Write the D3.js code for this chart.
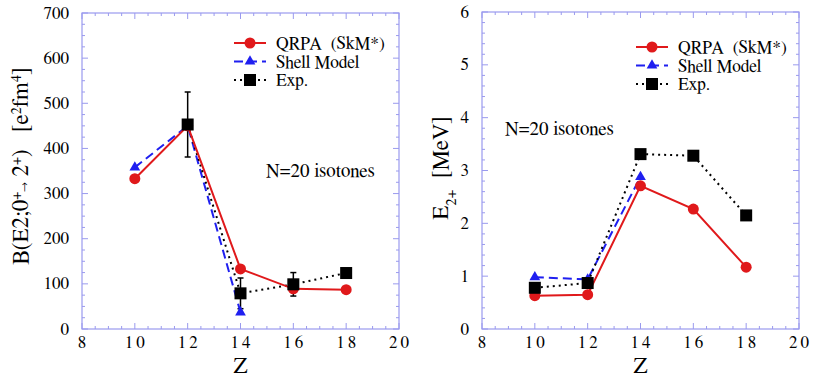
<!DOCTYPE html>
<html>
<head>
<meta charset="utf-8">
<script src="https://cdn.jsdelivr.net/npm/d3@7"></script>
<style>
  body { margin: 0; background: #fff; }
  text { white-space: pre; }
</style>
</head>
<body>
<div id="chart"></div>
<script>
// Z values
const zAll = [10, 12, 14, 16, 18];
const zShell = [10, 12, 14];

// left panel: B(E2) [e^2 fm^4]
const be2Qrpa = [333, 450, 133, 89, 87];
const be2Shell = [358, 450, 37];
const be2Exp = [453, 79, 99, 124];
const be2ExpZ = [12, 14, 16, 18];
const be2ExpErr = [72, 34, 26, 8];

// right panel: E(2+) [MeV]
const e2Qrpa = [0.63, 0.65, 2.71, 2.27, 1.17];
const e2Shell = [0.98, 0.94, 2.88];
const e2Exp = [0.78, 0.87, 3.31, 3.28, 2.15];

const xTicks = [8, 10, 12, 14, 16, 18, 20];
const be2Ticks = [0, 100, 200, 300, 400, 500, 600, 700];
const e2Ticks = [0, 1, 2, 3, 4, 5, 6];

const legendNames = ['QRPA  (SkM*)', 'Shell Model', 'Exp.'];

const frameColor = '#9a9aee';
const red = '#e0191b', blue = '#1f1ff0';
const serif = 'FreeSerif, "Liberation Serif", serif';

const svg = d3.select('#chart').append('svg')
  .attr('width', 830).attr('height', 378)
  .attr('font-family', serif);

function drawPanel(p) {
  const g = svg.append('g').attr('transform', `translate(${p.left},${p.top})`);
  const w = p.width, h = p.height;
  const x = d3.scaleLinear().domain([8, 20]).range([0, w]);
  const y = d3.scaleLinear().domain(p.yDomain).range([h, 0]);

  // frame
  g.append('rect').attr('width', w).attr('height', h)
    .attr('fill', 'none').attr('stroke', frameColor).attr('stroke-width', 1.2);

  // ticks on all four sides, pointing inward
  const xMinor = d3.range(8, 20.01, 0.5);
  const yMinor = d3.range(p.yDomain[0], p.yDomain[1] + 1e-6, p.yMinorStep);
  const isMajorX = v => Math.abs(v - Math.round(v / 2) * 2) < 1e-6;
  const isMajorY = v => Math.abs(v / p.yMajorStep - Math.round(v / p.yMajorStep)) < 1e-6;
  const tg = g.append('g').attr('stroke', frameColor).attr('stroke-width', 1);
  xMinor.forEach(v => {
    const len = isMajorX(v) ? 6 : 3;
    tg.append('line').attr('x1', x(v)).attr('x2', x(v)).attr('y1', h).attr('y2', h - len);
    tg.append('line').attr('x1', x(v)).attr('x2', x(v)).attr('y1', 0).attr('y2', len);
  });
  yMinor.forEach(v => {
    const len = isMajorY(v) ? 6 : 3;
    tg.append('line').attr('y1', y(v)).attr('y2', y(v)).attr('x1', 0).attr('x2', len);
    tg.append('line').attr('y1', y(v)).attr('y2', y(v)).attr('x1', w).attr('x2', w - len);
  });

  // tick labels
  g.selectAll('.xl').data(xTicks).enter().append('text')
    .attr('x', d => x(d) + 1.5).attr('y', h + 19)
    .attr('text-anchor', 'middle').style('font-size', '17px')
    .style('letter-spacing', '3px')
    .text(d => d);
  g.selectAll('.yl').data(p.yTicks).enter().append('text')
    .attr('x', -13).attr('y', d => y(d) + 5.5)
    .attr('text-anchor', 'end').style('font-size', '17px')
    .text(d => d);

  // axis titles
  g.append('text').attr('x', w / 2).attr('y', h + 44)
    .attr('text-anchor', 'middle').style('font-size', '23px').text('Z');
  const yt = g.append('text')
    .attr('transform', `translate(${p.yTitleX},${p.yTitleY}) rotate(-90)`)
    .attr('text-anchor', 'middle').style('font-size', '23px');
  p.yTitle(yt);

  const line = d3.line().x(d => x(d[0])).y(d => y(d[1]));

  // experiment error bars
  if (p.expErr) {
    const eg = g.append('g').attr('stroke', '#000').attr('stroke-width', 1.5);
    p.expZ.forEach((z, i) => {
      const v = p.exp[i], e = p.expErr[i];
      eg.append('line').attr('x1', x(z)).attr('x2', x(z)).attr('y1', y(v - e)).attr('y2', y(v + e));
      [v - e, v + e].forEach(t => eg.append('line')
        .attr('x1', x(z) - 3).attr('x2', x(z) + 3).attr('y1', y(t)).attr('y2', y(t)));
    });
  }

  const shellPts = zShell.map((z, i) => [z, p.shell[i]]);
  const qrpaPts = zAll.map((z, i) => [z, p.qrpa[i]]);
  const expPts = p.expZ.map((z, i) => [z, p.exp[i]]);

  g.append('path').datum(shellPts).attr('d', line).attr('fill', 'none')
    .attr('stroke', blue).attr('stroke-width', 2).attr('stroke-dasharray', '9,5');
  g.append('path').datum(expPts).attr('d', line).attr('fill', 'none')
    .attr('stroke', '#000').attr('stroke-width', 2).attr('stroke-dasharray', '2,4');
  g.append('path').datum(qrpaPts).attr('d', line).attr('fill', 'none')
    .attr('stroke', red).attr('stroke-width', 2);

  const tri = d3.symbol().type(d3.symbolTriangle).size(50);
  g.selectAll('.sh').data(shellPts).enter().append('path')
    .attr('d', tri).attr('fill', blue)
    .attr('transform', d => `translate(${x(d[0])},${y(d[1])})`);
  g.selectAll('.qr').data(qrpaPts).enter().append('circle')
    .attr('cx', d => x(d[0])).attr('cy', d => y(d[1])).attr('r', 5.5).attr('fill', red);
  g.selectAll('.ex').data(expPts).enter().append('rect')
    .attr('x', d => x(d[0]) - 6).attr('y', d => y(d[1]) - 6)
    .attr('width', 12).attr('height', 12).attr('fill', '#000');

  // legend
  const lg = g.append('g').attr('transform', `translate(${p.legX},${p.legY})`);
  const styles = [
    { stroke: red, dash: null, mark: 'circle' },
    { stroke: blue, dash: '9,5', mark: 'tri' },
    { stroke: '#000', dash: '2,4', mark: 'rect' }
  ];
  styles.forEach((s, i) => {
    const ry = i * 18.5;
    lg.append('line').attr('x1', 0).attr('x2', 32).attr('y1', ry).attr('y2', ry)
      .attr('stroke', s.stroke).attr('stroke-width', 2)
      .attr('stroke-dasharray', s.dash);
    if (s.mark === 'circle') lg.append('circle').attr('cx', 16).attr('cy', ry).attr('r', 5.5).attr('fill', red);
    if (s.mark === 'tri') lg.append('path').attr('d', tri).attr('fill', blue)
      .attr('transform', `translate(16,${ry})`);
    if (s.mark === 'rect') lg.append('rect').attr('x', 10).attr('y', ry - 6)
      .attr('width', 12).attr('height', 12).attr('fill', '#000');
    lg.append('text').attr('x', 42).attr('y', ry + 6).style('font-size', '17.5px')
      .text(legendNames[i]);
  });

  g.append('text').attr('x', p.isoX).attr('y', p.isoY)
    .style('font-size', '19px').text('N=20 isotones');
}

drawPanel({
  left: 82, top: 13, width: 317, height: 316,
  yDomain: [0, 700], yTicks: be2Ticks, yMinorStep: 25, yMajorStep: 100,
  qrpa: be2Qrpa, shell: be2Shell, exp: be2Exp, expZ: be2ExpZ, expErr: be2ExpErr,
  legX: 152, legY: 30, isoX: 184, isoY: 164,
  yTitleX: -54, yTitleY: 153,
  yTitle: t => {
    t.append('tspan').text('B(E2;0');
    t.append('tspan').attr('baseline-shift', 'super').style('font-size', '14px').text('+');
    t.append('tspan').style('font-size', '12px').text('\u2192');
    t.append('tspan').text(' 2');
    t.append('tspan').attr('baseline-shift', 'super').style('font-size', '14px').text('+');
    t.append('tspan').text(')   [e');
    t.append('tspan').attr('baseline-shift', 'super').style('font-size', '14px').text('2');
    t.append('tspan').text('fm');
    t.append('tspan').attr('baseline-shift', 'super').style('font-size', '14px').text('4');
    t.append('tspan').text(']');
  }
});

drawPanel({
  left: 482, top: 12, width: 317, height: 317,
  yDomain: [0, 6], yTicks: e2Ticks, yMinorStep: 0.2, yMajorStep: 1,
  qrpa: e2Qrpa, shell: e2Shell, exp: e2Exp, expZ: zAll, expErr: null,
  legX: 154, legY: 35, isoX: 23, isoY: 123,
  yTitleX: -34, yTitleY: 156,
  yTitle: t => {
    t.append('tspan').text('E');
    t.append('tspan').attr('baseline-shift', 'sub').style('font-size', '15px').text('2+');
    t.append('tspan').text('  [MeV]');
  }
});
</script>
</body>
</html>
